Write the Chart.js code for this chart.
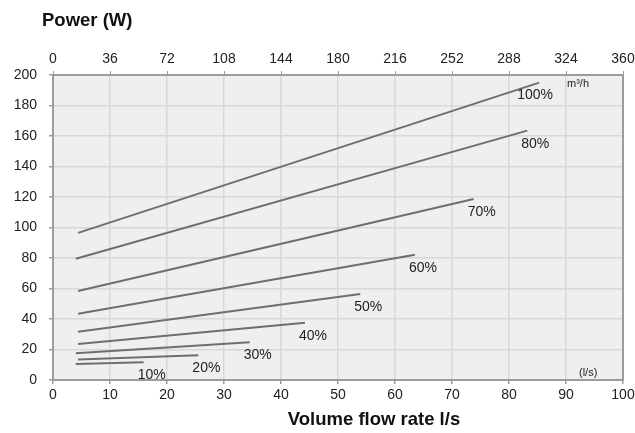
<!DOCTYPE html>
<html>
<head>
<meta charset="utf-8">
<script src="https://cdn.jsdelivr.net/npm/chart.js@4/dist/chart.umd.min.js"></script>
<style>
  html, body { margin: 0; padding: 0; background: #fff; }
  #wrap { width: 635px; height: 433px; position: relative; }
</style>
</head>
<body>
<div id="wrap"><canvas id="fanChart"></canvas></div>
<script>
// fan speed curves, power vs volume flow
const speeds = ['10%', '20%', '30%', '40%', '50%', '60%', '70%', '80%', '100%'];
const flowStart = [4.0, 4.4, 4.0, 4.4, 4.4, 4.4, 4.4, 4.0, 4.4];
const powerStart = [10.5, 13.5, 17.5, 23.6, 31.7, 43.5, 58.4, 79.5, 96.5];
const flowEnd = [15.9, 25.5, 34.5, 44.2, 53.9, 63.5, 73.8, 83.2, 85.3];
const powerEnd = [11.6, 16.2, 24.7, 37.6, 56.4, 82.2, 118.7, 163.5, 195];

const flowTicks = [0, 10, 20, 30, 40, 50, 60, 70, 80, 90, 100];
const m3hTicks = [0, 36, 72, 108, 144, 180, 216, 252, 288, 324, 360];
const powerTicks = [0, 20, 40, 60, 80, 100, 120, 140, 160, 180, 200];

const FONT = '"Liberation Sans", Arial, sans-serif';
const LINE_COLOR = '#6c6f71';

const datasets = speeds.map((s, i) => ({
    label: s,
    data: [{ x: flowStart[i], y: powerStart[i] }, { x: flowEnd[i], y: powerEnd[i] }],
    borderColor: LINE_COLOR,
    borderWidth: 2,
    pointRadius: 0,
    fill: false
}));

// plot background + frame + extra texts
const decorPlugin = {
    id: 'decor',
    beforeDraw(chart) {
        const { ctx, chartArea: a } = chart;
        ctx.save();
        ctx.fillStyle = '#efefef';
        ctx.fillRect(a.left, a.top, a.right - a.left, a.bottom - a.top);
        ctx.restore();
    },
    afterDraw(chart) {
        const { ctx, chartArea: a } = chart;
        const xs = chart.scales.x, ys = chart.scales.y;
        ctx.save();
        ctx.strokeStyle = '#9a9c9d';
        ctx.lineWidth = 2;
        ctx.strokeRect(a.left, a.top, a.right - a.left, a.bottom - a.top);

        // speed labels near the end of each line
        ctx.fillStyle = '#222';
        ctx.font = '14px ' + FONT;
        ctx.textBaseline = 'middle';
        ctx.textAlign = 'left';
        speeds.forEach((s, i) => {
            const px = xs.getPixelForValue(flowEnd[i]);
            const py = ys.getPixelForValue(powerEnd[i]);
            const dx = s === '100%' ? -22 : -6;
            ctx.fillText(s, px + dx, py + 13);
        });

        ctx.font = '11px ' + FONT;
        ctx.fillText('m³/h', 567, 84);
        ctx.fillText('(l/s)', 579, 373);

        ctx.font = 'bold 18.5px ' + FONT;
        ctx.fillStyle = '#111';
        ctx.fillText('Power (W)', 42, 21);
        ctx.textAlign = 'center';
        ctx.fillText('Volume flow rate l/s', 374, 420);
        ctx.restore();
    }
};

function noSidePad(s) {
    s.paddingLeft = 0;
    s.paddingRight = 0;
}

new Chart(document.getElementById('fanChart'), {
    type: 'line',
    data: { datasets },
    options: {
        responsive: true,
        maintainAspectRatio: false,
        animation: false,
        layout: { padding: { left: 0, right: 12, top: 0, bottom: 0 } },
        plugins: { legend: { display: false }, tooltip: { enabled: false } },
        scales: {
            x: {
                type: 'linear',
                position: 'bottom',
                min: 0,
                max: 100,
                afterBuildTicks: s => { s.ticks = flowTicks.map(v => ({ value: v })); },
                afterFit: s => { s.height = 53; noSidePad(s); },
                grid: { color: '#d6d9d9', lineWidth: 1.5, tickLength: 4, tickColor: '#9a9c9d' },
                border: { display: false },
                ticks: { color: '#222', font: { family: FONT, size: 14 }, padding: 3, maxRotation: 0, autoSkip: false }
            },
            x2: {
                type: 'linear',
                position: 'top',
                min: 0,
                max: 360,
                afterBuildTicks: s => { s.ticks = m3hTicks.map(v => ({ value: v })); },
                afterFit: s => { s.height = 75; noSidePad(s); },
                grid: { drawOnChartArea: false, tickLength: 4, tickColor: '#9a9c9d' },
                border: { display: false },
                ticks: { color: '#222', font: { family: FONT, size: 14 }, padding: 3, maxRotation: 0, autoSkip: false }
            },
            y: {
                type: 'linear',
                min: 0,
                max: 200,
                afterBuildTicks: s => { s.ticks = powerTicks.map(v => ({ value: v })); },
                afterFit: s => { s.width = 53; },
                grid: { color: '#d6d9d9', lineWidth: 1.5, tickLength: 4, tickColor: '#9a9c9d' },
                border: { display: false },
                ticks: { color: '#222', font: { family: FONT, size: 14 }, padding: 12, autoSkip: false }
            }
        }
    },
    plugins: [decorPlugin]
});
</script>
</body>
</html>
